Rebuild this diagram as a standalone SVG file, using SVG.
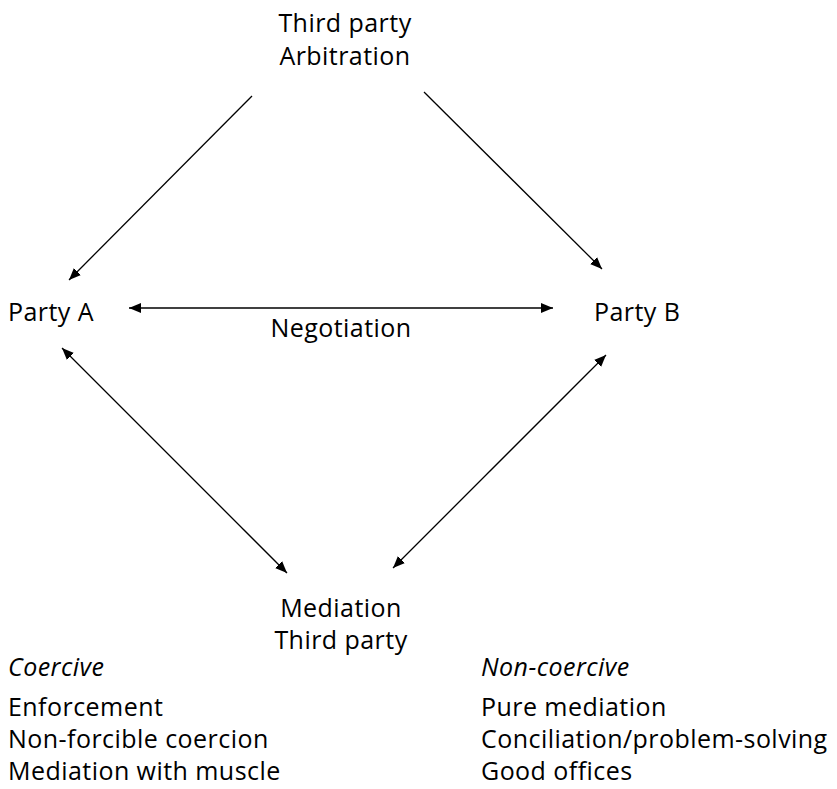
<svg xmlns="http://www.w3.org/2000/svg" width="837" height="789" viewBox="0 0 837 789">
<style>
text{font-family:"Open Sans","Noto Sans","DejaVu Sans",sans-serif;font-size:25px;letter-spacing:0.45px;fill:#000}
.c{text-anchor:middle}
.i{font-style:italic}
.ln{stroke:#000;stroke-width:1.3;fill:none}
</style>
<defs>
<marker id="ah" viewBox="0 0 12 10" refX="12" refY="5" markerWidth="12" markerHeight="10" markerUnits="userSpaceOnUse" orient="auto-start-reverse">
<path d="M0,0 L12,5 L0,10 z" fill="#000"/>
</marker>
</defs>
<rect width="837" height="789" fill="#fff"/>
<g id="arbitration">
<text class="c" x="345" y="32">Third party</text>
<text class="c" x="345" y="65">Arbitration</text>
</g>
<g id="partyA"><text x="8" y="321">Party A</text></g>
<g id="partyB"><text x="594" y="321">Party B</text></g>
<g id="negotiation"><text class="c" x="341" y="337">Negotiation</text></g>
<g id="mediation">
<text class="c" x="341" y="617">Mediation</text>
<text class="c" x="341" y="649">Third party</text>
</g>
<g id="coercive">
<text class="i" x="8" y="676">Coercive</text>
<text x="8" y="716">Enforcement</text>
<text x="8" y="748">Non-forcible coercion</text>
<text x="8" y="780">Mediation with muscle</text>
</g>
<g id="noncoercive">
<text class="i" x="481" y="676">Non-coercive</text>
<text x="481" y="716">Pure mediation</text>
<text x="481" y="748">Conciliation/problem-solving</text>
<text x="481" y="780">Good offices</text>
</g>
<g id="connectors">
<line class="ln" x1="252" y1="96" x2="69" y2="280" marker-end="url(#ah)"/>
<line class="ln" x1="424" y1="92" x2="602" y2="269" marker-end="url(#ah)"/>
<line class="ln" x1="129" y1="308" x2="553" y2="308" marker-start="url(#ah)" marker-end="url(#ah)"/>
<line class="ln" x1="62" y1="348" x2="287" y2="573" marker-start="url(#ah)" marker-end="url(#ah)"/>
<line class="ln" x1="606" y1="355" x2="393" y2="568" marker-start="url(#ah)" marker-end="url(#ah)"/>
</g>
</svg>
